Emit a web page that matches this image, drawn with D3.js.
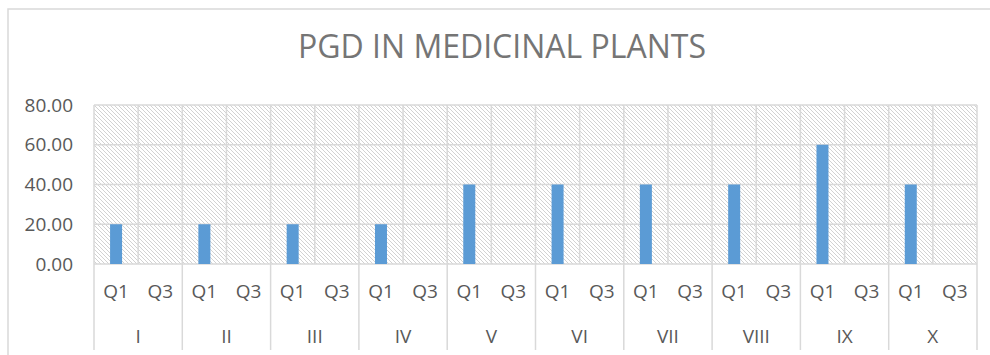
<!DOCTYPE html>
<html>
<head>
<meta charset="utf-8">
<script src="https://cdn.jsdelivr.net/npm/d3@7"></script>
<style>
  html, body { margin: 0; padding: 0; background: #fff; }
  svg { display: block; }
</style>
</head>
<body>
<div id="chart"></div>
<script>
// Medicinal plant groups and quarter sub-categories
const groups = ["I", "II", "III", "IV", "V", "VI", "VII", "VIII", "IX", "X"];
const quarters = ["Q1", "Q3"];
// PGD values per group, one array per quarter
const q1Values = [20, 20, 20, 20, 40, 40, 40, 40, 60, 40];
const q3Values = [0, 0, 0, 0, 0, 0, 0, 0, 0, 0];
const yTicks = [0, 20, 40, 60, 80];
const titleText = "PGD IN MEDICINAL PLANTS";

const W = 990, H = 355;
const margin = { left: 94, right: 13, top: 105, bottom: 91 };
const plotW = W - margin.left - margin.right;
const plotH = H - margin.top - margin.bottom;

const svg = d3.select("#chart").append("svg")
  .attr("width", W).attr("height", H);

// hatched plot-area fill: 1px downward diagonal every 4px
const defs = svg.append("defs");
const pat = defs.append("pattern")
  .attr("id", "hatch").attr("patternUnits", "userSpaceOnUse")
  .attr("width", 4).attr("height", 4);
pat.append("rect").attr("width", 4).attr("height", 4).attr("fill", "#ffffff");
pat.selectAll("rect.px").data([0, 1, 2, 3]).join("rect")
  .attr("class", "px")
  .attr("x", d => d).attr("y", d => d)
  .attr("width", 1).attr("height", 1)
  .attr("fill", "#d2d2d2")
  .attr("shape-rendering", "crispEdges");

// chart frame
svg.append("rect")
  .attr("x", 8).attr("y", 9).attr("width", W + 20).attr("height", H + 20)
  .attr("fill", "none").attr("stroke", "#d9d9d9").attr("stroke-width", 1.5);

const g = svg.append("g").attr("transform", `translate(${margin.left},${margin.top})`);

const x0 = d3.scaleBand().domain(groups).range([0, plotW]).padding(0);
const x1 = d3.scaleBand().domain(quarters).range([0, x0.bandwidth()]).padding(0);
const y = d3.scaleLinear().domain([0, 80]).range([plotH, 0]);

g.append("rect")
  .attr("width", plotW).attr("height", plotH)
  .attr("fill", "url(#hatch)");

const gridColor = "#d9d9d9";

// horizontal gridlines
g.selectAll(".hgrid").data(yTicks).join("line")
  .attr("x1", 0).attr("x2", plotW)
  .attr("y1", d => y(d)).attr("y2", d => y(d))
  .attr("stroke", gridColor).attr("stroke-width", 1.5);

// vertical gridlines at every sub-category boundary
const subEdges = [];
groups.forEach(gr => quarters.forEach(q => subEdges.push(x0(gr) + x1(q))));
subEdges.push(plotW);
g.selectAll(".vgrid").data(subEdges).join("line")
  .attr("x1", d => d).attr("x2", d => d)
  .attr("y1", 0).attr("y2", plotH)
  .attr("stroke", gridColor).attr("stroke-width", 1.5);

// group separators continue through the label rows
const groupEdges = groups.map(gr => x0(gr)).concat([plotW]);
g.selectAll(".gsep").data(groupEdges).join("line")
  .attr("x1", d => d).attr("x2", d => d)
  .attr("y1", plotH).attr("y2", plotH + 86)
  .attr("stroke", gridColor).attr("stroke-width", 1.5);

// bars
const rows = [];
groups.forEach((gr, i) => {
  rows.push({ group: gr, quarter: "Q1", value: q1Values[i] });
  rows.push({ group: gr, quarter: "Q3", value: q3Values[i] });
});
const barW = 12;
g.selectAll(".bar").data(rows).join("rect")
  .attr("x", d => x0(d.group) + x1(d.quarter) + x1.bandwidth() / 2 - barW / 2)
  .attr("y", d => y(d.value))
  .attr("width", barW)
  .attr("height", d => plotH - y(d.value))
  .attr("fill", "#5b9bd5");

const font = "'Open Sans', 'Liberation Sans', sans-serif";
const textColor = "#595959";
const labelSize = "19px";

// y axis labels
const yAxis = d3.axisLeft(y).tickValues(yTicks).tickFormat(d3.format(".2f")).tickSize(0).tickPadding(21);
const ya = g.append("g").call(yAxis);
ya.select(".domain").remove();
ya.selectAll("text")
  .attr("fill", textColor).style("font-family", font).style("font-size", labelSize);

// quarter labels
const qLabels = [];
groups.forEach(gr => quarters.forEach(q => qLabels.push({ gr, q })));
g.selectAll(".qlab").data(qLabels).join("text")
  .attr("x", d => x0(d.gr) + x1(d.q) + x1.bandwidth() / 2)
  .attr("y", plotH + 34)
  .attr("text-anchor", "middle")
  .attr("fill", textColor).style("font-family", font).style("font-size", labelSize)
  .text(d => d.q);

// group labels
g.selectAll(".glab").data(groups).join("text")
  .attr("x", d => x0(d) + x0.bandwidth() / 2)
  .attr("y", plotH + 79)
  .attr("text-anchor", "middle")
  .attr("fill", textColor).style("font-family", font).style("font-size", labelSize)
  .text(d => d);

// title
svg.append("text")
  .attr("x", 502).attr("y", 58)
  .attr("text-anchor", "middle")
  .attr("fill", "#757575").style("font-family", font).style("font-size", "32px")
  .text(titleText);
</script>
</body>
</html>
